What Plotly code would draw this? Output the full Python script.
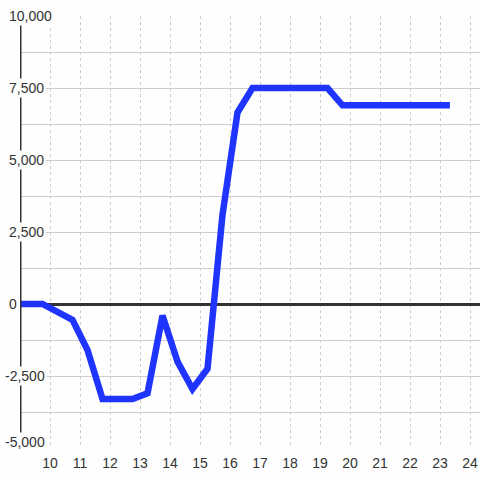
import plotly.graph_objects as go

# Data
x_vals = [9.0, 9.75, 10.75, 11.25, 11.75, 12.75, 13.25, 13.75, 14.25, 14.75,
          15.25, 15.75, 16.25, 16.75, 19.25, 19.75, 23.33]
y_vals = [0, 0, -550, -1600, -3300, -3300, -3100, -400, -2000, -2950,
          -2250, 3100, 6650, 7500, 7500, 6900, 6900]

x_tick_vals = list(range(10, 25))
x_tick_text = [str(v) for v in x_tick_vals]
y_label_vals = [10000, 7500, 5000, 2500, 0, -2500, -5000]
y_label_text = ["10,000", "7,500", "5,000", "2,500", "0", "-2,500", "-5,000"]

BG = "#fdfefd"
TXT = "#333333"
GRID = "#cccccc"
AXIS = "#333333"

fig = go.Figure()
fig.add_trace(go.Scatter(
    x=x_vals, y=y_vals, mode="lines",
    line=dict(color="#1f35ff", width=6.5),
    hoverinfo="skip", showlegend=False,
))

# vertical axis line at left edge of plot
fig.add_shape(type="line", xref="x", yref="y",
              x0=9, x1=9, y0=-5000, y1=10000,
              line=dict(color=AXIS, width=3), layer="above")

annotations = []
for v, t in zip(y_label_vals, y_label_text):
    annotations.append(dict(
        x=0, xref="paper", y=v, yref="y",
        text=t, showarrow=False, xanchor="left", yanchor="middle",
        xshift=-17 if v < 0 else -13,
        yshift=6 if v == -5000 else 0,
        font=dict(family="Liberation Sans, Arial, sans-serif", size=14, color=TXT),
        bgcolor=BG, borderpad=1,
    ))

fig.update_layout(
    width=480, height=480,
    margin=dict(l=20, r=0, t=16, b=32),
    paper_bgcolor=BG, plot_bgcolor=BG,
    annotations=annotations,
    font=dict(family="Liberation Sans, Arial, sans-serif", size=14, color=TXT),
    xaxis=dict(
        range=[9, 24.333], tickvals=x_tick_vals, ticktext=x_tick_text,
        showgrid=True, gridcolor=GRID, griddash="dot", gridwidth=1,
        zeroline=False, showline=False,
        ticks="outside", ticklen=2, tickcolor="rgba(0,0,0,0)",
        tickfont=dict(size=14, color=TXT),
    ),
    yaxis=dict(
        range=[-5000, 10000], dtick=1250, tick0=0,
        showgrid=True, gridcolor=GRID, gridwidth=1,
        showticklabels=False, ticks="",
        zeroline=True, zerolinecolor=AXIS, zerolinewidth=3,
        showline=False,
    ),
)

fig.write_html("out.html",
               config={"displayModeBar": False, "staticPlot": True},
               post_script="document.body.style.margin='0';document.body.style.overflow='hidden';")
